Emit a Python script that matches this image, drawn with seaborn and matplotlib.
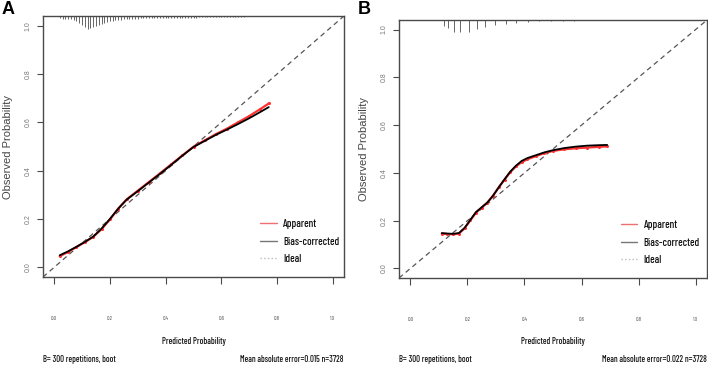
import numpy as np
import pandas as pd
import matplotlib
matplotlib.use("Agg")
import matplotlib.pyplot as plt
from matplotlib.lines import Line2D
from matplotlib.font_manager import FontProperties, findfont
import seaborn as sns

sns.set_theme(style="white")
plt.rcParams["font.family"] = ["Liberation Sans", "DejaVu Sans"]

# pick a condensed sans face (the reference text is a horizontally squeezed Arial look)
narrow_fam = "Liberation Sans"
for cand in ["Barlow Condensed", "Fira Sans Extra Condensed", "Roboto Condensed",
             "Archivo Narrow", "IBM Plex Sans Condensed"]:
    try:
        findfont(FontProperties(family=cand), fallback_to_default=False)
        narrow_fam = cand
        break
    except Exception:
        pass

# ---------------- data ----------------
pred_a = [0.02, 0.05, 0.08, 0.11, 0.14, 0.17, 0.20, 0.23, 0.26, 0.30, 0.34,
          0.38, 0.42, 0.46, 0.50, 0.54, 0.58, 0.62, 0.66, 0.70, 0.74, 0.77]
bias_a = [0.050, 0.066, 0.085, 0.105, 0.127, 0.160, 0.200, 0.243, 0.280, 0.315, 0.351,
          0.387, 0.424, 0.462, 0.498, 0.523, 0.548, 0.570, 0.593, 0.617, 0.643, 0.663]
app_a = [0.046, 0.064, 0.084, 0.104, 0.126, 0.158, 0.198, 0.243, 0.281, 0.317, 0.353,
         0.389, 0.426, 0.463, 0.499, 0.525, 0.551, 0.574, 0.600, 0.626, 0.655, 0.678]

pred_b = [0.11, 0.13, 0.15, 0.17, 0.19, 0.21, 0.23, 0.25, 0.27, 0.29, 0.31, 0.33,
          0.35, 0.37, 0.39, 0.41, 0.44, 0.47, 0.50, 0.54, 0.58, 0.62, 0.66, 0.69]
bias_b = [0.148, 0.146, 0.145, 0.148, 0.170, 0.203, 0.236, 0.256, 0.276, 0.305, 0.340, 0.373,
          0.405, 0.430, 0.450, 0.462, 0.474, 0.486, 0.495, 0.504, 0.510, 0.514, 0.516, 0.517]
app_b = [0.146, 0.144, 0.143, 0.146, 0.168, 0.201, 0.234, 0.255, 0.276, 0.305, 0.340, 0.372,
         0.403, 0.427, 0.445, 0.457, 0.470, 0.483, 0.492, 0.499, 0.503, 0.506, 0.509, 0.511]

# rug (histogram of predicted probabilities) at top; heights in pixels of the original
rug_pos_a = [0.02, 0.03, 0.04, 0.05, 0.06, 0.07, 0.08, 0.09, 0.10, 0.11, 0.12, 0.13, 0.14,
             0.15, 0.16, 0.17, 0.18, 0.19, 0.20, 0.21, 0.22, 0.23, 0.24, 0.25, 0.26, 0.27,
             0.28, 0.29, 0.30, 0.31, 0.32, 0.33, 0.34, 0.35, 0.36, 0.37, 0.38, 0.39, 0.40,
             0.41, 0.42, 0.43, 0.44, 0.45, 0.46, 0.47, 0.48, 0.49, 0.50, 0.51, 0.52, 0.53,
             0.54, 0.55, 0.56, 0.57, 0.58, 0.59, 0.60, 0.61, 0.62, 0.63, 0.64, 0.65, 0.66,
             0.67, 0.68]
rug_h_a = [2, 3, 3, 3, 3, 4, 5, 7, 9, 11, 13, 12, 11,
           10, 9, 8, 7, 6, 5, 5, 4, 4, 4, 3, 3, 3,
           3, 3, 3, 2, 2, 2, 2, 2, 2, 2, 2, 2, 2,
           2, 2, 2, 2, 1.5, 1.5, 1.5, 1.5, 1.5, 1.5, 1.5, 1, 1,
           1, 1, 1, 1, 1, 1, 1, 1, 1, 1, 0.8, 0.8, 0.8,
           0.8, 0.8]
rug_pos_b = [0.117, 0.132, 0.152, 0.175, 0.204, 0.234, 0.263, 0.298, 0.336, 0.372,
             0.413, 0.452, 0.494, 0.534, 0.573]
rug_h_b = [5.7, 8.3, 12.3, 12.3, 11.7, 9, 7.3, 5, 4, 3.3, 2.3, 1.3, 1, 0.7, 0.7]

ticks = [0.0, 0.2, 0.4, 0.6, 0.8, 1.0]
tick_labels = ["0.0", "0.2", "0.4", "0.6", "0.8", "1.0"]
legend_labels = ["Apparent", "Bias-corrected", "Ideal"]
panels = [
    dict(label="A", pred=pred_a, bias=bias_a, app=app_a, rug_pos=rug_pos_a, rug_h=rug_h_a,
         mae="Mean absolute error=0.015 n=3728", rect=[43, 16, 344, 277]),
    dict(label="B", pred=pred_b, bias=bias_b, app=app_b, rug_pos=rug_pos_b, rug_h=rug_h_b,
         mae="Mean absolute error=0.022 n=3728", rect=[399, 20, 707, 278]),
]

W, H = 708, 366
fig = plt.figure(figsize=(W / 100, H / 100), dpi=100)
renderer = fig.canvas.get_renderer()
axcol = "#4a4a4a"
lim = (-0.04, 1.04)
NW = "medium"


def fit_size(s, target_px, max_size):
    t = fig.text(0, 0, s, fontsize=10, family=narrow_fam, fontweight=NW)
    w = t.get_window_extent(renderer).width
    t.remove()
    return min(max_size, 10 * target_px / w)


sz_xlab = fit_size("Predicted Probability", 64, 10)
sz_sub = fit_size("Mean absolute error=0.015 n=3728", 103, 9)
sz_leg = fit_size("Bias-corrected", 56, 11)
sz_tick = fit_size("0.0", 6.5, 5.5)

for p in panels:
    l, t, r, b = p["rect"]
    ax = fig.add_axes([l / W, 1 - b / H, (r - l) / W, (b - t) / H])
    ax.set_xlim(*lim)
    ax.set_ylim(*lim)
    ax.plot(lim, lim, ls=(0, (4, 3)), color="#555555", lw=0.9, zorder=1)
    dfa = pd.DataFrame({"x": p["pred"], "y": p["app"]})
    dfb = pd.DataFrame({"x": p["pred"], "y": p["bias"]})
    sns.lineplot(data=dfa, x="x", y="y", ax=ax, color="#ff3030", lw=1.6,
                 marker="o", markersize=2.2, markeredgewidth=0, zorder=2)
    sns.lineplot(data=dfb, x="x", y="y", ax=ax, color="black", lw=1.3, zorder=3)
    # rug at top
    hpx = (b - t) / (lim[1] - lim[0])
    ax.vlines(p["rug_pos"], [lim[1] - h / hpx for h in p["rug_h"]], lim[1],
              color="#666666", lw=0.7, zorder=2)
    ax.set_xlabel("")
    ax.set_ylabel("")
    ax.set_xticks(ticks)
    ax.set_yticks(ticks)
    ax.set_xticklabels(tick_labels, fontsize=sz_tick, family=narrow_fam, color="#555555")
    ax.set_yticklabels(tick_labels, fontsize=5, color="#777777", rotation=90, va="center")
    ax.tick_params(axis="x", direction="out", length=5, width=0.8, color=axcol, pad=23, bottom=True)
    ax.tick_params(axis="y", direction="out", length=4, width=0.8, color=axcol, pad=4, left=True)
    for s in ax.spines.values():
        s.set_color(axcol)
        s.set_linewidth(1.0)
    handles = [Line2D([], [], color="#f07070", lw=1.0),
               Line2D([], [], color="#777777", lw=1.0),
               Line2D([], [], color="#bbbbbb", lw=1.0, ls=":")]
    leg = ax.legend(handles, legend_labels, loc="lower left", bbox_to_anchor=(0.69, 0.012),
                    frameon=False, handlelength=1.5, handletextpad=0.6, labelspacing=0.7,
                    prop={"family": narrow_fam, "size": sz_leg, "weight": NW})
    for tx in leg.get_texts():
        tx.set_color("#111111")
    cx = (l + r) / 2
    fig.text(cx / W, 1 - 342 / H, "Predicted Probability", ha="center", va="center",
             fontsize=sz_xlab, family=narrow_fam, fontweight=NW, color="#111111")
    fig.text(l / W, 1 - 360 / H, "B= 300 repetitions, boot", ha="left", va="center",
             fontsize=sz_sub, family=narrow_fam, fontweight=NW, color="#111111")
    fig.text(r / W, 1 - 360 / H, p["mae"], ha="right", va="center",
             fontsize=sz_sub, family=narrow_fam, fontweight=NW, color="#111111")
    fig.text((l - 35) / W, 1 - ((t + b) / 2) / H, "Observed Probability", rotation=90,
             ha="center", va="center", fontsize=8, color="#444444")
    fig.text((l - 41) / W, 1 - 9 / H, p["label"], ha="left", va="center",
             fontsize=13, fontweight="bold", color="black")

fig.savefig("out.png", dpi=100)
